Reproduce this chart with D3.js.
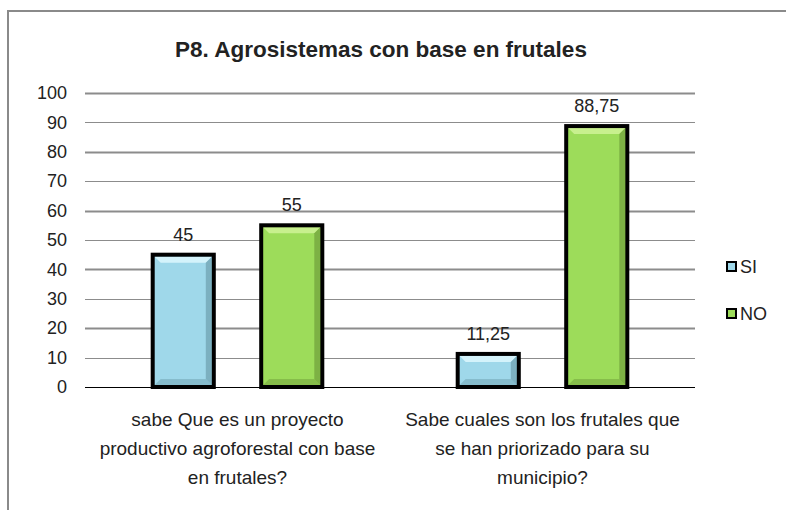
<!DOCTYPE html>
<html>
<head>
<meta charset="utf-8">
<script src="https://cdn.jsdelivr.net/npm/d3@7"></script>
<style>
  body { margin: 0; background: #fff; }
  text { font-family: "Liberation Sans", Arial, sans-serif; fill: #222; }
</style>
</head>
<body>
<div class="demo"></div>
<script>
// datos del grafico
var categories = [
  ['sabe Que es un proyecto', 'productivo agroforestal con base', 'en frutales?'],
  ['Sabe cuales son los frutales que', 'se han priorizado para su', 'municipio?']
];
var series = ['SI', 'NO'];
var siValues = [45, 11.25];
var noValues = [55, 88.75];
var yTicks = [0, 10, 20, 30, 40, 50, 60, 70, 80, 90, 100];

var colors = { SI: '#9fd8ea', NO: '#9ddc5a' };
var darkColors = { SI: '#6e9fae', NO: '#6f9e3a' };
var lightColors = { SI: '#d4f3fb', NO: '#c8f08e' };

var w = 786, h = 510;
var padL = 85, padR = 695, padT = 93, padB = 387;

var svg = d3.select('.demo').append('svg').attr('width', w).attr('height', h);

// borde del cuadro
svg.append('path')
  .attr('d', 'M8,' + h + ' L8,11 L' + w + ',11')
  .attr('fill', 'none').attr('stroke', '#8a8a8a').attr('stroke-width', 2);

// titulo
svg.append('text')
  .attr('x', 381).attr('y', 57)
  .attr('text-anchor', 'middle')
  .attr('font-size', '22.5px').attr('font-weight', 'bold')
  .text('P8. Agrosistemas con base en frutales');

var yScale = d3.scaleLinear().domain([0, 100]).range([padB, padT]);

var x0 = d3.scaleBand().domain(d3.range(categories.length)).range([padL, padR]);
var x1 = d3.scaleBand().domain(series).range([44, 261]).paddingInner(0.4).paddingOuter(0.2);

// lineas de cuadricula
svg.append('g').selectAll('line').data(yTicks.filter(function(d){ return d > 0; })).enter()
  .append('line')
  .attr('x1', padL).attr('x2', padR)
  .attr('y1', function(d){ return Math.round(yScale(d)) + 0.5; })
  .attr('y2', function(d){ return Math.round(yScale(d)) + 0.5; })
  .attr('stroke', '#8c8c8c')
  .attr('stroke-width', function(d){ return d % 20 == 0 ? 2 : 1; });

// eje y
var yAxis = d3.axisLeft(yScale).tickValues(yTicks).tickSize(0).tickPadding(18);
var gy = svg.append('g').attr('transform', 'translate(' + padL + ',0)').call(yAxis);
gy.select('.domain').remove();
gy.selectAll('text').attr('font-size', '18px')
  .attr('font-family', '"Liberation Sans", Arial, sans-serif').attr('fill', '#222');

// barras
var rows = [];
categories.forEach(function(c, i){
  rows.push({ cat: i, s: 'SI', v: siValues[i] });
  rows.push({ cat: i, s: 'NO', v: noValues[i] });
});

var bars = svg.append('g').selectAll('g').data(rows).enter().append('g');
var sw = 4;
function bx(d){ return x0(d.cat) + x1(d.s) + sw / 2; }
function bw(){ return x1.bandwidth() - sw; }
function by(d){ return yScale(d.v); }
function bh(d){ return yScale(0) - yScale(d.v); }

bars.append('rect')
  .attr('x', bx).attr('y', by).attr('width', bw).attr('height', bh)
  .attr('fill', function(d){ return colors[d.s]; });

// biselado
var bev = 6;
function inner(d){
  var x = bx(d) + sw / 2, y = by(d) + sw / 2, ww = bw() - sw, hh = bh(d) - sw;
  return { x: x, y: y, w: ww, h: hh, b: Math.min(bev, hh / 2) };
}
bars.append('path')
  .attr('d', function(d){
    var r = inner(d);
    return 'M' + r.x + ',' + r.y + 'L' + (r.x + r.w) + ',' + r.y + 'L' + (r.x + r.w - r.b) + ',' + (r.y + r.b) + 'L' + (r.x + r.b) + ',' + (r.y + r.b) + 'Z';
  })
  .attr('fill', function(d){ return lightColors[d.s]; });
bars.append('path')
  .attr('d', function(d){
    var r = inner(d);
    return 'M' + (r.x + r.w) + ',' + r.y + 'L' + (r.x + r.w) + ',' + (r.y + r.h) + 'L' + (r.x + r.w - r.b) + ',' + (r.y + r.h - r.b) + 'L' + (r.x + r.w - r.b) + ',' + (r.y + r.b) + 'Z';
  })
  .attr('fill', function(d){ return darkColors[d.s]; }).attr('opacity', 0.7);
bars.append('path')
  .attr('d', function(d){
    var r = inner(d);
    return 'M' + r.x + ',' + (r.y + r.h) + 'L' + (r.x + r.w) + ',' + (r.y + r.h) + 'L' + (r.x + r.w - r.b) + ',' + (r.y + r.h - r.b) + 'L' + (r.x + r.b) + ',' + (r.y + r.h - r.b) + 'Z';
  })
  .attr('fill', function(d){ return darkColors[d.s]; }).attr('opacity', 0.5);
bars.append('rect')
  .attr('x', bx).attr('y', by).attr('width', bw).attr('height', bh)
  .attr('fill', 'none').attr('stroke', '#000').attr('stroke-width', sw);

// valores
bars.append('text')
  .attr('x', function(d){ return bx(d) + bw() / 2; })
  .attr('y', function(d){ return by(d) - 14; })
  .attr('text-anchor', 'middle').attr('font-size', '18px')
  .text(function(d){ return String(d.v).replace('.', ','); });

// eje x
svg.append('line')
  .attr('x1', padL).attr('x2', padR)
  .attr('y1', padB + 0.5).attr('y2', padB + 0.5)
  .attr('stroke', '#000').attr('stroke-width', 1);

var labels = svg.append('g').selectAll('text').data(categories).enter()
  .append('text')
  .attr('text-anchor', 'middle').attr('font-size', '19px')
  .attr('x', function(d, i){ return x0(i) + x0.bandwidth() / 2; })
  .attr('y', 426);
labels.selectAll('tspan').data(function(d){ return d; }).enter()
  .append('tspan')
  .attr('x', function(){ return d3.select(this.parentNode).attr('x'); })
  .attr('dy', function(d, i){ return i == 0 ? 0 : 29; })
  .text(function(d){ return d; });

// leyenda
var legend = svg.append('g').selectAll('g').data(series).enter().append('g')
  .attr('transform', function(d, i){ return 'translate(727,' + (262 + i * 47) + ')'; });
legend.append('rect')
  .attr('width', 9).attr('height', 9)
  .attr('fill', function(d){ return colors[d]; })
  .attr('stroke', '#000').attr('stroke-width', 2);
legend.append('text')
  .attr('x', 13).attr('y', 11)
  .attr('font-size', '18px')
  .text(function(d){ return d; });
</script>
</body>
</html>
